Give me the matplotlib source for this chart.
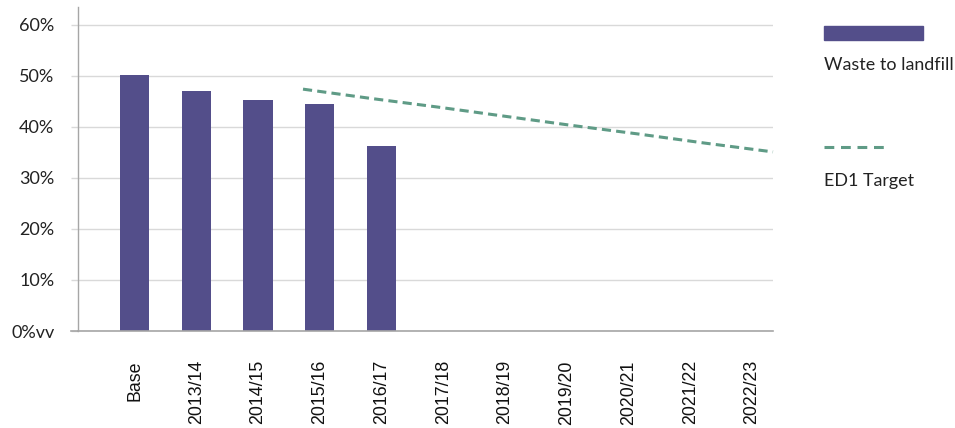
import numpy as np
import matplotlib
matplotlib.use("Agg")
import matplotlib.pyplot as plt
from matplotlib.patches import Rectangle
from matplotlib.lines import Line2D

# data
categories = ["Base", "2013/14", "2014/15", "2015/16", "2016/17", "2017/18",
              "2018/19", "2019/20", "2020/21", "2021/22", "2022/23"]
landfill_pct = [50.2, 47.0, 45.2, 44.5, 36.2]          # Base .. 2016/17
target_pct = [47.4, 45.6, 43.9, 42.1, 40.3, 38.6, 36.8, 35.1]  # ED1 target series
yticks = [0, 10, 20, 30, 40, 50, 60]
ytick_labels = ["0%vv", "10%", "20%", "30%", "40%", "50%", "60%"]

C_BAR, C_LINE, C_GRID, C_AXIS = "#534E8A", "#5F9B86", "#D9D9D9", "#A6A6A6"
YFONT = "Lato"
XFONT = "Liberation Sans"

fig = plt.figure(figsize=(9.55, 4.28), dpi=100)
ax = fig.add_axes([78 / 955, 1 - 331 / 428, (773 - 78) / 955, (331 - 7) / 428])

x = np.arange(len(landfill_pct))
ax.bar(x, landfill_pct, width=0.47, color=C_BAR, zorder=3)
ax.set_xlim(-0.915, 10.34)
ax.set_ylim(0, 63.5)

# target series sits on its own (hidden) x axis, like the secondary axis in the original
ax2 = ax.twiny()
ax2.plot(np.arange(len(target_pct)), target_pct, color=C_LINE, lw=2.2,
         ls=(0, (3, 1.7)), zorder=4, clip_on=False)
ax2.set_xlim(-3.351, len(target_pct) - 1)
ax2.set_ylim(0, 63.5)
ax2.axis("off")

ax.set_xticks(np.arange(len(categories)))
ax.set_xticklabels(categories, rotation=90, fontsize=12.8, family=XFONT,
                   va="top", ha="center", color="#111111")
ax.tick_params(axis="x", length=0, pad=21)

ax.set_yticks(yticks)
ax.set_yticklabels(ytick_labels, fontsize=13, family=YFONT, color="#222222")
ax.tick_params(axis="y", length=5, color=C_GRID, width=1, pad=12)
ax.grid(True, axis="y", color=C_GRID, lw=1, zorder=0)

for s in ["top", "right"]:
    ax.spines[s].set_visible(False)
ax.spines["left"].set_color(C_AXIS)
ax.spines["left"].set_linewidth(1)
ax.spines["bottom"].set_color(C_AXIS)
ax.spines["bottom"].set_linewidth(1.2)
ax.spines["bottom"].set_zorder(5)
# zero line runs out past the y axis like the other gridlines
ax.add_line(Line2D([-7 / 695, 0], [0, 0], transform=ax.transAxes, color=C_AXIS,
                   lw=1.2, clip_on=False))

# legend drawn by hand: keys above their labels
W, H = 955, 428
fig.patches.append(Rectangle((824 / W, 1 - 40 / H), 99 / W, 14 / H,
                             transform=fig.transFigure, color=C_BAR))
fig.text(824 / W, 1 - 65 / H, "Waste to landfill", fontsize=12.9, family=YFONT,
         va="center", ha="left", color="#222222")
fig.lines.append(Line2D([824 / W, 888 / W], [1 - 147 / H, 1 - 147 / H],
                        transform=fig.transFigure, color=C_LINE, lw=2.2,
                        ls=(0, (3.2, 2.2))))
fig.text(824 / W, 1 - 181 / H, "ED1 Target", fontsize=12.9, family=YFONT,
         va="center", ha="left", color="#222222")

fig.savefig("out.png", dpi=100, facecolor="white")
